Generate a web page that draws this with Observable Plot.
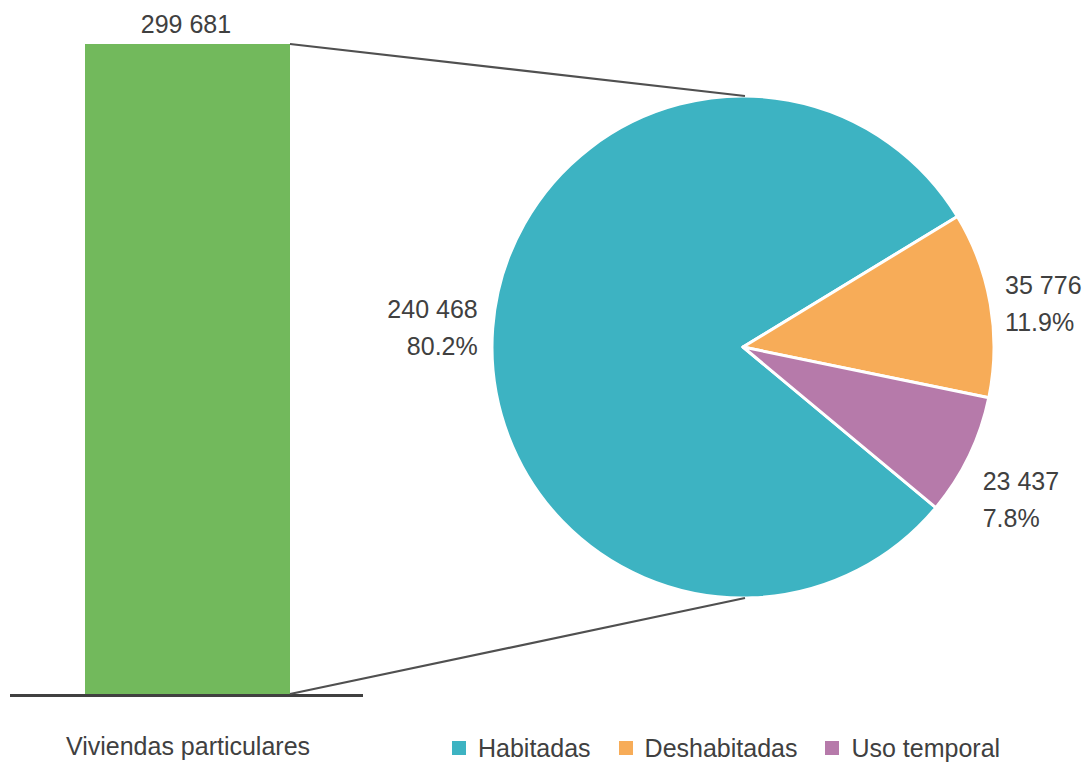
<!DOCTYPE html>
<html><head><meta charset="utf-8">
<script src="https://cdn.jsdelivr.net/npm/d3@7"></script>
<script src="https://cdn.jsdelivr.net/npm/@observablehq/plot@0.6"></script>
<style>
body{margin:0;background:#fff;}
#chart{position:relative;width:1085px;height:765px;font-family:"Liberation Sans",Arial,sans-serif;color:#404040;}
#legend{position:absolute;left:452px;top:734px;display:flex;align-items:center;font-size:25px;line-height:28px;font-family:"Liberation Sans",Arial,sans-serif;color:#404040;}
#legend .item{display:flex;align-items:center;margin-right:28px;}
#legend .sw{width:14px;height:14px;margin-right:12px;}
</style></head><body><div id="chart"><div id="legend"></div></div>
<script>
// ---- data ----
const categories = ["Viviendas particulares"];
const totalValues = [299681];
const sliceNames = ["Habitadas", "Deshabitadas", "Uso temporal"];
const sliceValues = [240468, 35776, 23437];
const sliceColors = ["#3DB3C2", "#F7AC58", "#B67AAA"];
const barColor = "#72B95C";

const fmt = d3.formatLocale({decimal: ".", thousands: " ", grouping: [3], currency: ["", ""]}).format(",");
const bars = categories.map((c, i) => ({cat: c, value: totalValues[i]}));
const total = totalValues[0];
const slices = sliceNames.map((n, i) => ({name: n, value: sliceValues[i], color: sliceColors[i]}));

function pieMark(index, scales) {
  const cx = 743, cy = 347, r = 251, labelR = 266, lh = 37;
  const start = 129.8 * Math.PI / 180;
  const g = d3.create("svg:g");
  const arcs = d3.pie().sort(null).value(d => d.value).startAngle(start).endAngle(start + 2 * Math.PI)(slices);
  const arc = d3.arc().innerRadius(0).outerRadius(r);
  g.append("g").attr("transform", `translate(${cx},${cy})`)
    .selectAll("path").data(arcs).join("path")
    .attr("d", arc).attr("fill", d => d.data.color)
    .attr("stroke", "#fff").attr("stroke-width", 3).attr("stroke-linejoin", "round");
  // connectors from bar corners to pie
  let bw = scales.x.bandwidth;
  bw = typeof bw === "function" ? bw() : bw;
  const bx = scales.x(categories[0]) + bw;
  const yTop = scales.y(total), yBot = scales.y(0);
  g.append("path")
    .attr("d", `M${bx},${yTop}L${cx + 2},${cy - r}M${bx},${yBot}L${cx + 2},${cy + r}`)
    .attr("stroke", "#505050").attr("stroke-width", 2.2).attr("fill", "none");
  // labels
  const sum = d3.sum(slices, d => d.value);
  for (const a of arcs) {
    const m = (a.startAngle + a.endAngle) / 2;
    const sx = Math.sin(m), sy = -Math.cos(m);
    const px = cx + labelR * sx, py = cy + labelR * sy;
    const anchor = sx >= 0 ? "start" : "end";
    let c0;
    if (sy > 0.3) c0 = py + lh / 2;
    else if (sy < -0.3) c0 = py - 1.5 * lh;
    else c0 = py - lh / 2 + (sx > 0 ? 2 : 0);
    const lines = [fmt(a.data.value), (a.data.value / sum * 100).toFixed(1) + "%"];
    const t = g.append("text").attr("text-anchor", anchor).attr("fill", "#404040");
    lines.forEach((s, i) => t.append("tspan").attr("x", px).attr("y", c0 + i * lh).attr("dy", "0.35em").text(s));
  }
  return g.node();
}

const plot = Plot.plot({
  width: 1085,
  height: 765,
  marginTop: 44,
  marginBottom: 71,
  marginLeft: 10,
  marginRight: 722,
  style: {fontFamily: "'Liberation Sans', Arial, sans-serif", fontSize: "25px", color: "#404040", background: "transparent", overflow: "visible"},
  x: {type: "band", domain: categories, range: [85, 290], padding: 0, tickSize: 0, tickPadding: 43, label: null},
  y: {domain: [0, d3.max(totalValues)], axis: null},
  marks: [
    Plot.barY(bars, {x: "cat", y: "value", fill: barColor, inset: 0}),
    Plot.ruleY([0], {stroke: "#404040", strokeWidth: 3, dy: 1}),
    Plot.text(bars, {x: "cat", y: "value", text: d => fmt(d.value), dy: -20, dx: -2, fill: "#404040"}),
    pieMark
  ]
});
document.getElementById("chart").prepend(plot);

// legend
const leg = d3.select("#legend");
slices.forEach(s => {
  const it = leg.append("div").attr("class", "item");
  it.append("div").attr("class", "sw").style("background", s.color);
  it.append("span").text(s.name);
});
</script>
</body></html>
